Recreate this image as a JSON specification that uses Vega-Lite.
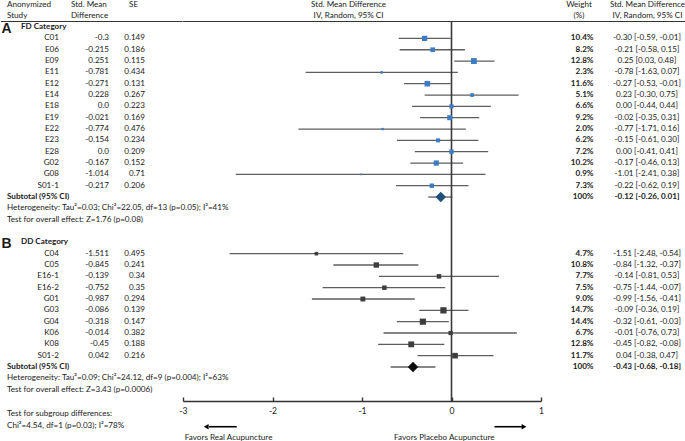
{
  "$schema": "https://vega.github.io/schema/vega-lite/v6.json",
  "padding": 0,
  "spacing": 0,
  "bounds": "flush",
  "config": {
    "view": {"stroke": null},
    "text": {"font": "Lato", "fontSize": 8.1, "color": "#1a1a1a"},
    "concat": {"spacing": 0}
  },
  "datasets": {
    "studies": [
      {"grp": "FD", "row": 1, "study": "C01", "smd": "-0.3", "se": "0.149", "w": 10.4, "wl": "10.4%", "est": -0.30, "lo": -0.59, "hi": -0.01, "ci": "-0.30 [-0.59, -0.01]"},
      {"grp": "FD", "row": 2, "study": "E06", "smd": "-0.215", "se": "0.186", "w": 8.2, "wl": "8.2%", "est": -0.21, "lo": -0.58, "hi": 0.15, "ci": "-0.21 [-0.58, 0.15]"},
      {"grp": "FD", "row": 3, "study": "E09", "smd": "0.251", "se": "0.115", "w": 12.8, "wl": "12.8%", "est": 0.25, "lo": 0.03, "hi": 0.48, "ci": "0.25 [0.03, 0.48]"},
      {"grp": "FD", "row": 4, "study": "E11", "smd": "-0.781", "se": "0.434", "w": 2.3, "wl": "2.3%", "est": -0.78, "lo": -1.63, "hi": 0.07, "ci": "-0.78 [-1.63, 0.07]"},
      {"grp": "FD", "row": 5, "study": "E12", "smd": "-0.271", "se": "0.131", "w": 11.6, "wl": "11.6%", "est": -0.27, "lo": -0.53, "hi": -0.01, "ci": "-0.27 [-0.53, -0.01]"},
      {"grp": "FD", "row": 6, "study": "E14", "smd": "0.228", "se": "0.267", "w": 5.1, "wl": "5.1%", "est": 0.23, "lo": -0.30, "hi": 0.75, "ci": "0.23 [-0.30, 0.75]"},
      {"grp": "FD", "row": 7, "study": "E18", "smd": "0.0", "se": "0.223", "w": 6.6, "wl": "6.6%", "est": 0.00, "lo": -0.44, "hi": 0.44, "ci": "0.00 [-0.44, 0.44]"},
      {"grp": "FD", "row": 8, "study": "E19", "smd": "-0.021", "se": "0.169", "w": 9.2, "wl": "9.2%", "est": -0.02, "lo": -0.35, "hi": 0.31, "ci": "-0.02 [-0.35, 0.31]"},
      {"grp": "FD", "row": 9, "study": "E22", "smd": "-0.774", "se": "0.476", "w": 2.0, "wl": "2.0%", "est": -0.77, "lo": -1.71, "hi": 0.16, "ci": "-0.77 [-1.71, 0.16]"},
      {"grp": "FD", "row": 10, "study": "E23", "smd": "-0.154", "se": "0.234", "w": 6.2, "wl": "6.2%", "est": -0.15, "lo": -0.61, "hi": 0.30, "ci": "-0.15 [-0.61, 0.30]"},
      {"grp": "FD", "row": 11, "study": "E28", "smd": "0.0", "se": "0.209", "w": 7.2, "wl": "7.2%", "est": 0.00, "lo": -0.41, "hi": 0.41, "ci": "0.00 [-0.41, 0.41]"},
      {"grp": "FD", "row": 12, "study": "G02", "smd": "-0.167", "se": "0.152", "w": 10.2, "wl": "10.2%", "est": -0.17, "lo": -0.46, "hi": 0.13, "ci": "-0.17 [-0.46, 0.13]"},
      {"grp": "FD", "row": 13, "study": "G08", "smd": "-1.014", "se": "0.71", "w": 0.9, "wl": "0.9%", "est": -1.01, "lo": -2.41, "hi": 0.38, "ci": "-1.01 [-2.41, 0.38]"},
      {"grp": "FD", "row": 14, "study": "S01-1", "smd": "-0.217", "se": "0.206", "w": 7.3, "wl": "7.3%", "est": -0.22, "lo": -0.62, "hi": 0.19, "ci": "-0.22 [-0.62, 0.19]"},
      {"grp": "DD", "row": 20, "study": "C04", "smd": "-1.511", "se": "0.495", "w": 4.7, "wl": "4.7%", "est": -1.51, "lo": -2.48, "hi": -0.54, "ci": "-1.51 [-2.48, -0.54]"},
      {"grp": "DD", "row": 21, "study": "C05", "smd": "-0.845", "se": "0.241", "w": 10.8, "wl": "10.8%", "est": -0.84, "lo": -1.32, "hi": -0.37, "ci": "-0.84 [-1.32, -0.37]"},
      {"grp": "DD", "row": 22, "study": "E16-1", "smd": "-0.139", "se": "0.34", "w": 7.7, "wl": "7.7%", "est": -0.14, "lo": -0.81, "hi": 0.53, "ci": "-0.14 [-0.81, 0.53]"},
      {"grp": "DD", "row": 23, "study": "E16-2", "smd": "-0.752", "se": "0.35", "w": 7.5, "wl": "7.5%", "est": -0.75, "lo": -1.44, "hi": -0.07, "ci": "-0.75 [-1.44, -0.07]"},
      {"grp": "DD", "row": 24, "study": "G01", "smd": "-0.987", "se": "0.294", "w": 9.0, "wl": "9.0%", "est": -0.99, "lo": -1.56, "hi": -0.41, "ci": "-0.99 [-1.56, -0.41]"},
      {"grp": "DD", "row": 25, "study": "G03", "smd": "-0.086", "se": "0.139", "w": 14.7, "wl": "14.7%", "est": -0.09, "lo": -0.36, "hi": 0.19, "ci": "-0.09 [-0.36, 0.19]"},
      {"grp": "DD", "row": 26, "study": "G04", "smd": "-0.318", "se": "0.147", "w": 14.4, "wl": "14.4%", "est": -0.32, "lo": -0.61, "hi": -0.03, "ci": "-0.32 [-0.61, -0.03]"},
      {"grp": "DD", "row": 27, "study": "K06", "smd": "-0.014", "se": "0.382", "w": 6.7, "wl": "6.7%", "est": -0.01, "lo": -0.76, "hi": 0.73, "ci": "-0.01 [-0.76, 0.73]"},
      {"grp": "DD", "row": 28, "study": "K08", "smd": "-0.45", "se": "0.188", "w": 12.8, "wl": "12.8%", "est": -0.45, "lo": -0.82, "hi": -0.08, "ci": "-0.45 [-0.82, -0.08]"},
      {"grp": "DD", "row": 29, "study": "S01-2", "smd": "0.042", "se": "0.216", "w": 11.7, "wl": "11.7%", "est": 0.04, "lo": -0.38, "hi": 0.47, "ci": "0.04 [-0.38, 0.47]"}
    ],
    "subtotals": [
      {"grp": "FD", "row": 15, "label": "Subtotal (95% CI)", "wl": "100%", "est": -0.12, "lo": -0.26, "hi": 0.01, "ci": "-0.12 [-0.26, 0.01]"},
      {"grp": "DD", "row": 30, "label": "Subtotal (95% CI)", "wl": "100%", "est": -0.43, "lo": -0.68, "hi": -0.18, "ci": "-0.43 [-0.68, -0.18]"}
    ],
    "groups": [
      {"letter": "A", "name": "FD Category", "row": 0},
      {"letter": "B", "name": "DD Category", "row": 19}
    ],
    "leftNotes": [
      {"text": "Anonymized", "row": -1.95},
      {"text": "Study", "row": -0.98},
      {"text": "Heterogeneity: Tau²=0.03; Chi²=22.05, df=13 (p=0.05); I²=41%", "row": 16},
      {"text": "Test for overall effect: Z=1.76 (p=0.08)", "row": 17},
      {"text": "Heterogeneity: Tau²=0.09; Chi²=24.12, df=9 (p=0.004); I²=63%", "row": 31},
      {"text": "Test for overall effect: Z=3.43 (p=0.0006)", "row": 32},
      {"text": "Test for subgroup differences:", "row": 34.15},
      {"text": "Chi²=4.54, df=1 (p=0.03); I²=78%", "row": 35.25}
    ],
    "headers": [
      {"col": "smd", "text": "Std. Mean", "row": -1.95},
      {"col": "smd", "text": "Difference", "row": -0.98},
      {"col": "se", "text": "SE", "row": -1.95},
      {"col": "plot", "text": "Std. Mean Difference", "row": -1.95},
      {"col": "plot", "text": "IV, Random, 95% CI", "row": -0.98},
      {"col": "weight", "text": "Weight", "row": -1.95},
      {"col": "weight", "text": "(%)", "row": -0.98},
      {"col": "ci", "text": "Std. Mean Difference", "row": -1.95},
      {"col": "ci", "text": "IV, Random, 95% CI", "row": -0.98}
    ],
    "hline": [{"row": -0.49}],
    "zeroLine": [{"x": 0, "top": -0.49, "bottom": 33}],
    "arrows": [
      {"dir": "left", "from": -2.4, "to": -2.71, "tip": -2.74, "row": 35.27, "label": "Favors Real Acupuncture", "labelAt": -2.49},
      {"dir": "right", "from": 0.48, "to": 0.79, "tip": 0.81, "row": 35.27, "label": "Favors Placebo Acupuncture", "labelAt": -0.08}
    ]
  },
  "hconcat": [
    {
      "width": 181.5,
      "height": 400,
      "layer": [
        {
          "data": {"name": "hline"},
          "mark": {"type": "rule", "color": "#333", "strokeWidth": 1.2},
          "encoding": {
            "x": {"datum": 0, "type": "quantitative", "scale": {"domain": [0, 181.5], "nice": false, "zero": false}, "axis": null},
            "x2": {"datum": 181.5},
            "y": {"field": "row", "type": "quantitative", "scale": {"domain": [-2.3, 33], "reverse": true, "nice": false, "zero": false}, "axis": null}
          }
        },
        {
          "data": {"name": "leftNotes"},
          "mark": {"type": "text", "align": "left", "baseline": "middle"},
          "encoding": {"x": {"datum": 6, "type": "quantitative"}, "y": {"field": "row", "type": "quantitative"}, "text": {"field": "text"}}
        },
        {
          "data": {"name": "subtotals"},
          "mark": {"type": "text", "align": "left", "baseline": "middle", "fontWeight": "bold"},
          "encoding": {"x": {"datum": 6, "type": "quantitative"}, "y": {"field": "row", "type": "quantitative"}, "text": {"field": "label"}}
        },
        {
          "data": {"name": "groups"},
          "mark": {"type": "text", "align": "left", "baseline": "middle", "fontWeight": "bold", "fontSize": 14, "font": "Liberation Sans", "dy": 1.5},
          "encoding": {"x": {"datum": 0.5, "type": "quantitative"}, "y": {"field": "row", "type": "quantitative"}, "text": {"field": "letter"}}
        },
        {
          "data": {"name": "groups"},
          "mark": {"type": "text", "align": "left", "baseline": "middle", "fontWeight": "bold"},
          "encoding": {"x": {"datum": 20, "type": "quantitative"}, "y": {"field": "row", "type": "quantitative"}, "text": {"field": "name"}}
        },
        {
          "data": {"name": "headers"},
          "transform": [{"filter": "datum.col === 'smd'"}],
          "mark": {"type": "text", "align": "left", "baseline": "middle"},
          "encoding": {"x": {"datum": 70, "type": "quantitative"}, "y": {"field": "row", "type": "quantitative"}, "text": {"field": "text"}}
        },
        {
          "data": {"name": "headers"},
          "transform": [{"filter": "datum.col === 'se'"}],
          "mark": {"type": "text", "align": "left", "baseline": "middle"},
          "encoding": {"x": {"datum": 128, "type": "quantitative"}, "y": {"field": "row", "type": "quantitative"}, "text": {"field": "text"}}
        },
        {
          "data": {"name": "studies"},
          "mark": {"type": "text", "align": "right", "baseline": "middle"},
          "encoding": {"x": {"datum": 58, "type": "quantitative"}, "y": {"field": "row", "type": "quantitative"}, "text": {"field": "study"}}
        },
        {
          "data": {"name": "studies"},
          "mark": {"type": "text", "align": "right", "baseline": "middle"},
          "encoding": {"x": {"datum": 108, "type": "quantitative"}, "y": {"field": "row", "type": "quantitative"}, "text": {"field": "smd"}}
        },
        {
          "data": {"name": "studies"},
          "mark": {"type": "text", "align": "right", "baseline": "middle"},
          "encoding": {"x": {"datum": 144, "type": "quantitative"}, "y": {"field": "row", "type": "quantitative"}, "text": {"field": "se"}}
        }
      ]
    },
    {
      "width": 358,
      "height": 400,
      "layer": [
        {
          "data": {"name": "studies"},
          "mark": {"type": "rule", "color": "#5e5e5e", "strokeWidth": 1.3},
          "encoding": {
            "x": {
              "field": "lo", "type": "quantitative",
              "scale": {"domain": [-3, 1], "nice": false, "zero": false},
              "axis": {
                "values": [-3, -2, -1, 0, 1], "labelExpr": "'' + datum.value", "title": null, "grid": false,
                "tickSize": -4, "labelPadding": 9, "domainColor": "#333", "tickColor": "#333",
                "domainWidth": 1.4, "tickWidth": 1.4, "labelFont": "Lato", "labelFontSize": 8.6, "labelColor": "#1a1a1a",
                "labelFlush": false
              }
            },
            "x2": {"field": "hi"},
            "y": {"field": "row", "type": "quantitative", "scale": {"domain": [-2.3, 33], "reverse": true, "nice": false, "zero": false}, "axis": null}
          }
        },
        {
          "data": {"name": "subtotals"},
          "mark": {"type": "rule", "color": "#5e5e5e", "strokeWidth": 1.3},
          "encoding": {
            "x": {"field": "lo", "type": "quantitative"},
            "x2": {"field": "hi"},
            "y": {"field": "row", "type": "quantitative"}
          }
        },
        {
          "data": {"name": "zeroLine"},
          "mark": {"type": "rule", "color": "#3a3a3a", "strokeWidth": 1.6},
          "encoding": {
            "x": {"field": "x", "type": "quantitative"},
            "y": {"field": "top", "type": "quantitative"},
            "y2": {"field": "bottom"}
          }
        },
        {
          "data": {"name": "studies"},
          "mark": {"type": "point", "shape": "square", "filled": true, "opacity": 1},
          "encoding": {
            "x": {"field": "est", "type": "quantitative"},
            "y": {"field": "row", "type": "quantitative"},
            "size": {"field": "w", "type": "quantitative", "scale": {"domain": [0, 15], "range": [0, 40], "zero": true}, "legend": null},
            "color": {"field": "grp", "type": "nominal", "scale": {"domain": ["FD", "DD"], "range": ["#3b7cc4", "#3d3d3d"]}, "legend": null}
          }
        },
        {
          "data": {"name": "subtotals"},
          "mark": {"type": "point", "shape": "diamond", "filled": true, "opacity": 1, "size": 110},
          "encoding": {
            "x": {"field": "est", "type": "quantitative"},
            "y": {"field": "row", "type": "quantitative"},
            "fill": {"field": "grp", "type": "nominal", "scale": {"domain": ["FD", "DD"], "range": ["#1f4e79", "#0d0d0d"]}, "legend": null}
          }
        },
        {
          "data": {"name": "hline"},
          "mark": {"type": "rule", "color": "#333", "strokeWidth": 1.2},
          "encoding": {
            "x": {"datum": -3, "type": "quantitative"},
            "x2": {"datum": 1},
            "y": {"field": "row", "type": "quantitative"}
          }
        },
        {
          "data": {"name": "headers"},
          "transform": [{"filter": "datum.col === 'plot'"}],
          "mark": {"type": "text", "align": "center", "baseline": "middle"},
          "encoding": {"x": {"datum": -1.15, "type": "quantitative"}, "y": {"field": "row", "type": "quantitative"}, "text": {"field": "text"}}
        },
        {
          "data": {"name": "arrows"},
          "mark": {"type": "rule", "color": "#000", "strokeWidth": 1.6},
          "encoding": {
            "x": {"field": "from", "type": "quantitative"},
            "x2": {"field": "to"},
            "y": {"field": "row", "type": "quantitative"}
          }
        },
        {
          "data": {"name": "arrows"},
          "mark": {"type": "point", "filled": true, "opacity": 1, "size": 30, "color": "#000"},
          "encoding": {
            "x": {"field": "tip", "type": "quantitative"},
            "y": {"field": "row", "type": "quantitative"},
            "shape": {"field": "dir", "type": "nominal", "scale": {"domain": ["left", "right"], "range": ["triangle-left", "triangle-right"]}, "legend": null}
          }
        },
        {
          "data": {"name": "arrows"},
          "mark": {"type": "text", "align": "center", "baseline": "middle", "dy": 10.8},
          "encoding": {"x": {"field": "labelAt", "type": "quantitative"}, "y": {"field": "row", "type": "quantitative"}, "text": {"field": "label"}}
        }
      ]
    },
    {
      "width": 145.5,
      "height": 400,
      "layer": [
        {
          "data": {"name": "hline"},
          "mark": {"type": "rule", "color": "#333", "strokeWidth": 1.2},
          "encoding": {
            "x": {"datum": 0, "type": "quantitative", "scale": {"domain": [0, 145.5], "nice": false, "zero": false}, "axis": null},
            "x2": {"datum": 145.5},
            "y": {"field": "row", "type": "quantitative", "scale": {"domain": [-2.3, 33], "reverse": true, "nice": false, "zero": false}, "axis": null}
          }
        },
        {
          "data": {"name": "headers"},
          "transform": [{"filter": "datum.col === 'weight'"}],
          "mark": {"type": "text", "align": "center", "baseline": "middle"},
          "encoding": {"x": {"datum": 38, "type": "quantitative"}, "y": {"field": "row", "type": "quantitative"}, "text": {"field": "text"}}
        },
        {
          "data": {"name": "headers"},
          "transform": [{"filter": "datum.col === 'ci'"}],
          "mark": {"type": "text", "align": "center", "baseline": "middle"},
          "encoding": {"x": {"datum": 106.5, "type": "quantitative"}, "y": {"field": "row", "type": "quantitative"}, "text": {"field": "text"}}
        },
        {
          "data": {"name": "studies"},
          "mark": {"type": "text", "align": "right", "baseline": "middle", "fontWeight": "bold"},
          "encoding": {"x": {"datum": 52.5, "type": "quantitative"}, "y": {"field": "row", "type": "quantitative"}, "text": {"field": "wl"}}
        },
        {
          "data": {"name": "studies"},
          "mark": {"type": "text", "align": "center", "baseline": "middle"},
          "encoding": {"x": {"datum": 106, "type": "quantitative"}, "y": {"field": "row", "type": "quantitative"}, "text": {"field": "ci"}}
        },
        {
          "data": {"name": "subtotals"},
          "mark": {"type": "text", "align": "right", "baseline": "middle", "fontWeight": "bold"},
          "encoding": {"x": {"datum": 52.5, "type": "quantitative"}, "y": {"field": "row", "type": "quantitative"}, "text": {"field": "wl"}}
        },
        {
          "data": {"name": "subtotals"},
          "mark": {"type": "text", "align": "center", "baseline": "middle", "fontWeight": "bold"},
          "encoding": {"x": {"datum": 106, "type": "quantitative"}, "y": {"field": "row", "type": "quantitative"}, "text": {"field": "ci"}}
        }
      ]
    }
  ]
}
